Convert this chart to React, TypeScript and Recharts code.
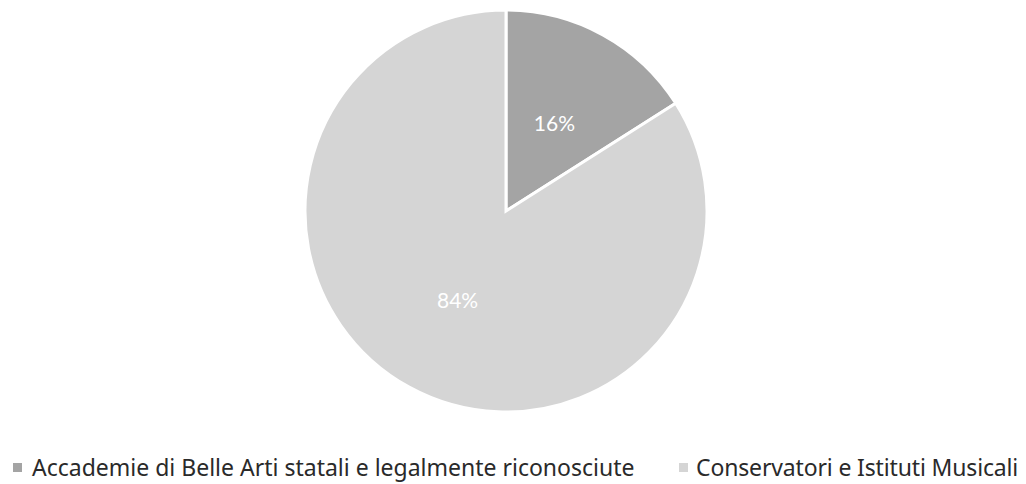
import { Legend, Pie, PieChart } from 'recharts'

const CATEGORIES = [
  'Accademie di Belle Arti statali e legalmente riconosciute',
  'Conservatori e Istituti Musicali',
]
const SHARES = [16, 84]
const COLORS = ['#a4a4a4', '#d5d5d5']

const data = CATEGORIES.map((name, i) => ({ name, value: SHARES[i], fill: COLORS[i] }))

const RAD = Math.PI / 180
const LABEL_FONT = 'Lato, "Noto Sans", sans-serif'
const LEGEND_FONT = '"Noto Sans", Lato, sans-serif'

function renderLabel(props: any) {
  const { cx, cy, midAngle, outerRadius, value } = props
  const r = outerRadius * 0.5
  const x = cx + r * Math.cos(-midAngle * RAD)
  const y = cy + r * Math.sin(-midAngle * RAD)
  return (
    <text
      x={x}
      y={y}
      fill="#ffffff"
      fontSize={21}
      fontFamily={LABEL_FONT}
      textAnchor="middle"
      dominantBaseline="central"
    >
      {`${value}%`}
    </text>
  )
}

// legend item x offsets, picked to line up with the reference
const LEGEND_LEFT = [13, 679]

function LegendContent() {
  return (
    <div style={{ position: 'relative', height: 32, fontFamily: LEGEND_FONT, fontSize: 23, color: '#2a2a2a' }}>
      {data.map((d, i) => (
        <div
          key={d.name}
          style={{ position: 'absolute', left: LEGEND_LEFT[i], top: 0, display: 'flex', alignItems: 'center', whiteSpace: 'nowrap' }}
        >
          <span style={{ display: 'inline-block', width: 9, height: 9, background: d.fill, marginRight: i === 0 ? 10 : 8 }} />
          <span style={{ letterSpacing: i === 0 ? 0 : -0.15 }}>{d.name}</span>
        </div>
      ))}
    </div>
  )
}

export default function App() {
  return (
    <div style={{ position: 'absolute', left: 0, top: 0, width: 1026, height: 484, background: '#fff' }}>
      <PieChart width={1026} height={484} margin={{ top: 0, right: 0, bottom: 0, left: 0 }}>
        <Pie
          data={data}
          dataKey="value"
          nameKey="name"
          cx={506}
          cy={211}
          outerRadius={201}
          startAngle={90}
          endAngle={-270}
          stroke="#ffffff"
          strokeWidth={3}
          label={renderLabel}
          labelLine={false}
          isAnimationActive={false}
        />
        <Legend
          content={<LegendContent />}
          wrapperStyle={{ position: 'absolute', left: 0, top: 451, width: 1026 }}
        />
      </PieChart>
    </div>
  )
}
